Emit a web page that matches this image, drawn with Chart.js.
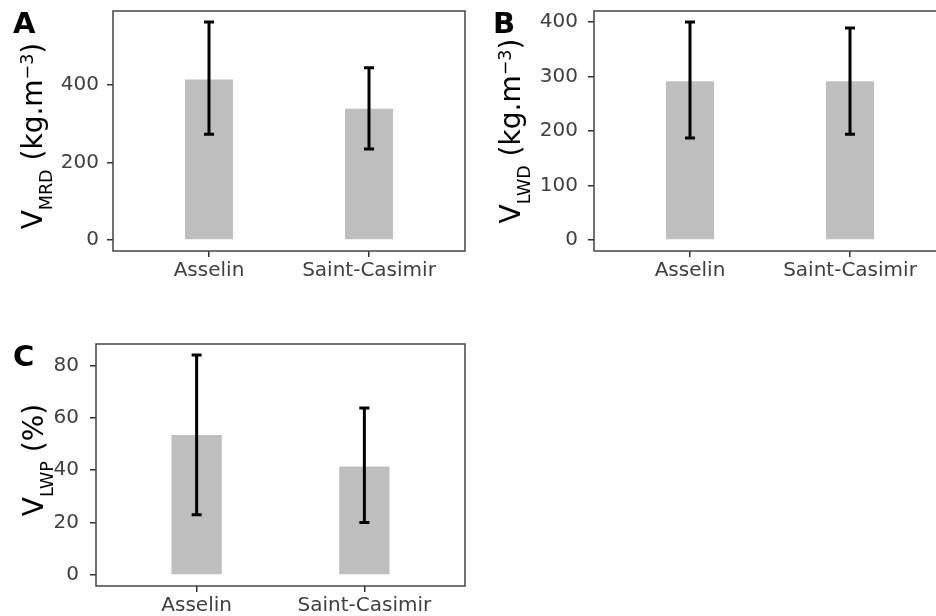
<!DOCTYPE html>
<html>
<head>
<meta charset="utf-8">
<script src="https://cdn.jsdelivr.net/npm/chart.js@4.4.0/dist/chart.umd.min.js"></script>
<style>
html, body { margin: 0; padding: 0; background: #fff; }
body { width: 936px; height: 616px; overflow: hidden; position: relative; }
.panel { position: absolute; }
</style>
</head>
<body>
<div class="panel" style="left:0;top:0"><canvas id="cA" width="470" height="300"></canvas></div>
<div class="panel" style="left:470px;top:0"><canvas id="cB" width="480" height="300"></canvas></div>
<div class="panel" style="left:0;top:300px"><canvas id="cC" width="470" height="316"></canvas></div>
<script>
var sites = ['Asselin', 'Saint-Casimir'];

// A: V_MRD (kg.m-3)
var mrdMean = [413, 338];
var mrdLow  = [272, 234];
var mrdHigh = [561, 443];
var mrdTicks = [0, 200, 400];

// B: V_LWD (kg.m-3)
var lwdMean = [291, 291];
var lwdLow  = [187, 194];
var lwdHigh = [400, 389];
var lwdTicks = [0, 100, 200, 300, 400];

// C: V_LWP (%)
var lwpMean = [53.5, 41.4];
var lwpLow  = [23, 20];
var lwpHigh = [84, 63.8];
var lwpTicks = [0, 20, 40, 60, 80];

var FONT = '"DejaVu Sans", "Liberation Sans", sans-serif';

function makePanel(id, c) {
    var hi = Math.max.apply(null, c.high);
    var pad = hi * 0.05;   // ggplot style expansion

    var deco = {
        id: 'deco',
        afterDatasetsDraw: function(chart) {
            var ctx = chart.ctx, xs = chart.scales.x, ys = chart.scales.y;
            ctx.save();
            ctx.strokeStyle = '#000';
            ctx.lineWidth = 3;
            c.mean.forEach(function(m, i) {
                var x = xs.getPixelForValue(i + 1);
                var yh = ys.getPixelForValue(c.high[i]);
                var yl = ys.getPixelForValue(c.low[i]);
                ctx.beginPath();
                ctx.moveTo(x, yh); ctx.lineTo(x, yl);
                ctx.moveTo(x - 5, yh); ctx.lineTo(x + 5, yh);
                ctx.moveTo(x - 5, yl); ctx.lineTo(x + 5, yl);
                ctx.stroke();
            });
            ctx.restore();
        },
        afterDraw: function(chart) {
            var ctx = chart.ctx, a = chart.chartArea;
            ctx.save();
            ctx.strokeStyle = '#444';
            ctx.lineWidth = 1.5;
            ctx.strokeRect(a.left, a.top, a.right - a.left, a.bottom - a.top);

            // panel letter
            ctx.fillStyle = '#000';
            ctx.textBaseline = 'alphabetic';
            ctx.textAlign = 'left';
            ctx.font = 'bold 29px ' + FONT;
            ctx.fillText(c.letter, c.letterX, c.letterY);

            // rotated y title with sub/superscripts
            var big = 28, small = 17.5;
            ctx.translate(c.titleX, (a.top + a.bottom) / 2 + c.titleShift);
            ctx.rotate(-Math.PI / 2);
            var w = 0;
            c.title.forEach(function(p) {
                ctx.font = (p[1] ? small : big) + 'px ' + FONT;
                w += ctx.measureText(p[0]).width;
            });
            var x = -w / 2;
            c.title.forEach(function(p) {
                ctx.font = (p[1] ? small : big) + 'px ' + FONT;
                var dy = p[1] === 1 ? 10 : p[1] === 2 ? -9 : 0;
                ctx.fillText(p[0], x, dy);
                x += ctx.measureText(p[0]).width;
            });
            ctx.restore();
        }
    };

    var tickFont = { family: FONT, size: 20 };
    var zeroPad = function(s) { s.paddingTop = 0; s.paddingBottom = 0; s.paddingLeft = 0; s.paddingRight = 0; };

    return new Chart(document.getElementById(id), {
        type: 'bar',
        data: {
            datasets: [{
                data: c.mean.map(function(m, i) { return { x: i + 1, y: m }; }),
                backgroundColor: '#bebebe',
                borderWidth: 0,
                barPercentage: 0.3,
                categoryPercentage: 1
            }]
        },
        options: {
            responsive: false,
            animation: false,
            layout: { padding: c.pad },
            plugins: { legend: { display: false }, tooltip: { enabled: false } },
            scales: {
                x: {
                    type: 'linear', min: 0.4, max: 2.6, offset: false,
                    afterBuildTicks: function(s) { s.ticks = [{ value: 1 }, { value: 2 }]; },
                    afterFit: function(s) { s.height = c.xh; zeroPad(s); },
                    grid: { offset: false, drawOnChartArea: false, drawTicks: true, tickLength: 6, color: '#333', lineWidth: 1.5 },
                    border: { display: false },
                    ticks: {
                        autoSkip: false, maxRotation: 0, padding: c.xpad, color: '#404040', font: tickFont,
                        callback: function(v) { return sites[v - 1]; }
                    }
                },
                y: {
                    min: -pad, max: hi + pad,
                    afterBuildTicks: function(s) { s.ticks = c.ticks.map(function(v) { return { value: v }; }); },
                    afterFit: function(s) { s.width = c.yw; zeroPad(s); },
                    grid: { drawOnChartArea: false, drawTicks: true, tickLength: 6, color: '#333', lineWidth: 1.5 },
                    border: { display: false },
                    ticks: {
                        padding: c.ypad, color: '#404040', font: tickFont,
                        callback: function(v) { return String(v); }
                    }
                }
            }
        },
        plugins: [deco]
    });
}

makePanel('cA', {
    mean: mrdMean, low: mrdLow, high: mrdHigh, ticks: mrdTicks,
    letter: 'A', letterX: 13, letterY: 33, titleX: 42, titleShift: 5,
    title: [['V', 0], ['MRD', 1], [' (kg.m', 0], ['\u22123', 2], [')', 0]],
    pad: { top: 11, right: 5, left: 0, bottom: 0 }, yw: 113, xh: 49, ypad: 8, xpad: 2
});

makePanel('cB', {
    mean: lwdMean, low: lwdLow, high: lwdHigh, ticks: lwdTicks,
    letter: 'B', letterX: 23, letterY: 33, titleX: 50, titleShift: 0,
    title: [['V', 0], ['LWD', 1], [' (kg.m', 0], ['\u22123', 2], [')', 0]],
    pad: { top: 11, right: 4, left: 0, bottom: 0 }, yw: 124, xh: 49, ypad: 10, xpad: 2
});

makePanel('cC', {
    mean: lwpMean, low: lwpLow, high: lwpHigh, ticks: lwpTicks,
    letter: 'C', letterX: 13, letterY: 66, titleX: 43, titleShift: -5,
    title: [['V', 0], ['LWP', 1], [' (%)', 0]],
    pad: { top: 44, right: 5, left: 0, bottom: 0 }, yw: 96, xh: 30, ypad: 11, xpad: 2
});
</script>
</body>
</html>
